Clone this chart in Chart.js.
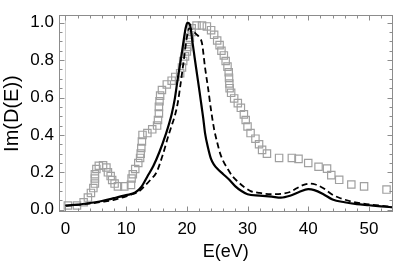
<!DOCTYPE html>
<html><head><meta charset="utf-8">
<script src="https://cdn.jsdelivr.net/npm/chart.js@4/dist/chart.umd.min.js"></script>
<style>html,body{margin:0;padding:0;background:#fff;overflow:hidden}</style>
</head><body>
<canvas id="c" width="399" height="268"></canvas>
<script>
// ---- data ----
const solidE = [0,2,4,6,8,10,11.5,12.5,13.5,14.5,15.5,16.5,17.5,18,18.5,19,19.5,19.8,20.1,20.5,21,21.3,21.7,22.1,22.4,22.7,23,23.5,24,24.5,25,26,27,28,29,30,32,34,35.5,37,38.5,40,41,42.5,44,46,48,50,52,54];
const solidD = [0.022,0.027,0.036,0.047,0.062,0.078,0.092,0.122,0.178,0.235,0.31,0.4,0.51,0.59,0.7,0.8,0.91,0.97,1.0,0.99,0.88,0.81,0.72,0.63,0.56,0.49,0.41,0.33,0.27,0.24,0.22,0.19,0.16,0.125,0.1,0.083,0.076,0.07,0.065,0.075,0.095,0.11,0.105,0.083,0.055,0.04,0.03,0.024,0.018,0.013];

const dashE = [0,2,4,6,8,9,10,11,12,13,14,15,16,17,17.5,18,18.5,19,19.5,20,20.4,20.9,21.5,22.1,22.5,23,23.5,24,24.5,25,25.5,26,26.7,27.5,28.4,29.5,30.5,32,33.8,35.5,37,38.1,39,40.2,41.2,42.5,44,45.1,47,49,51,54];
const dashD = [0.022,0.026,0.033,0.042,0.053,0.062,0.072,0.083,0.095,0.125,0.16,0.2,0.29,0.4,0.45,0.5,0.57,0.68,0.8,0.92,0.97,0.96,0.94,0.92,0.89,0.76,0.65,0.53,0.43,0.36,0.3,0.26,0.22,0.18,0.15,0.12,0.1,0.09,0.083,0.085,0.095,0.115,0.13,0.14,0.135,0.115,0.08,0.064,0.045,0.033,0.025,0.015];

const sqE = [0.4,1.9,3.0,3.7,4.2,4.6,4.85,4.85,4.85,5.1,5.5,6.2,6.75,7.0,7.45,7.7,8.1,8.65,9.7,10.8,10.9,11.1,11.5,12.0,12.3,12.4,12.5,12.6,12.7,13.5,14.3,15.1,15.25,15.4,15.4,15.5,15.6,15.9,16.7,17.5,18.1,18.9,19.2,19.4,19.7,20.0,20.1,20.2,20.5,20.8,20.8,21.6,22.5,23.3,24.0,24.5,25.0,25.4,25.7,26.1,26.4,26.7,26.9,26.95,27.0,27.05,27.3,27.8,28.4,28.9,29.4,29.7,30.0,30.5,31.3,31.9,32.4,33.2,35.2,37.3,38.4,40.0,41.7,43.1,43.8,45.1,47.1,49.2,52.9];
const sqD = [0.023,0.023,0.04,0.065,0.09,0.116,0.14,0.167,0.19,0.218,0.235,0.238,0.226,0.2,0.18,0.159,0.14,0.125,0.125,0.133,0.167,0.19,0.218,0.25,0.277,0.3,0.33,0.365,0.4,0.41,0.43,0.45,0.48,0.515,0.55,0.58,0.61,0.64,0.67,0.69,0.71,0.73,0.76,0.795,0.82,0.846,0.87,0.897,0.92,0.95,0.97,0.985,0.985,0.98,0.96,0.935,0.905,0.88,0.85,0.825,0.795,0.765,0.735,0.705,0.675,0.65,0.625,0.595,0.57,0.545,0.51,0.48,0.445,0.41,0.38,0.35,0.32,0.3,0.277,0.277,0.272,0.25,0.23,0.22,0.185,0.16,0.135,0.125,0.108];

const xTicks = [0,10,20,30,40,50];
const yTicks = [0,0.2,0.4,0.6,0.8,1.0];
const xMinorStep = 2;
const yMinorStep = 0.05;
const xTitle = 'E(eV)';
const yTitle = 'Im(D(E))';

const pts = (xs, ys) => xs.map((x, i) => ({x: x, y: ys[i]}));

const FONT = 'Liberation Sans, Arial, sans-serif';
const FRAME = '#8c8c8c';

const framePlugin = {
  id: 'frame',
  beforeDatasetsDraw(chart) {
    const {ctx, chartArea: a, scales: {x}} = chart;
    ctx.save();
    ctx.strokeStyle = '#cfcfcf';
    ctx.lineWidth = 1;
    const x0 = Math.round(x.getPixelForValue(0)) + 0.5;
    ctx.beginPath(); ctx.moveTo(x0, a.top); ctx.lineTo(x0, a.bottom); ctx.stroke();
    ctx.restore();
  },
  afterDatasetsDraw(chart) {
    const {ctx, chartArea: a, scales: {x, y}} = chart;
    ctx.save();
    ctx.strokeStyle = FRAME;
    ctx.lineWidth = 1;
    const L = Math.round(a.left) + 0.5, R = Math.round(a.right) - 0.5;
    const T = Math.round(a.top) + 0.5, B = Math.round(a.bottom) - 0.5;
    ctx.strokeRect(L, T, R - L, B - T);
    ctx.beginPath();
    for (let v = 0; v <= x.max; v += xMinorStep) {
      const major = xTicks.includes(Math.round(v * 1000) / 1000);
      const len = major ? 5 : 3;
      const px = Math.round(x.getPixelForValue(v)) + 0.5;
      ctx.moveTo(px, B); ctx.lineTo(px, B - len);
      ctx.moveTo(px, T); ctx.lineTo(px, T + len);
    }
    for (let i = 0; i * yMinorStep <= y.max + 1e-9; i++) {
      const v = Math.round(i * yMinorStep * 1000) / 1000;
      const major = yTicks.some(t => Math.abs(t - v) < 1e-6);
      const len = major ? 5 : 3;
      const py = Math.round(y.getPixelForValue(v)) + 0.5;
      ctx.moveTo(L, py); ctx.lineTo(L + len, py);
      ctx.moveTo(R, py); ctx.lineTo(R - len, py);
    }
    ctx.stroke();
    ctx.restore();
  }
};

new Chart(document.getElementById('c'), {
  type: 'scatter',
  data: {
    datasets: [
      {
        label: 'squares',
        data: pts(sqE, sqD),
        showLine: false,
        pointStyle: 'rect',
        pointRadius: 5.2,
        pointBorderColor: '#a0a0a0',
        pointBorderWidth: 1.2,
        pointBackgroundColor: 'rgba(0,0,0,0)',
        order: 3
      },
      {
        label: 'dashed',
        data: pts(dashE, dashD),
        showLine: true,
        borderColor: '#000',
        borderWidth: 1.8,
        borderDash: [6, 3.5],
        pointRadius: 0,
        cubicInterpolationMode: 'monotone',
        fill: false,
        order: 2
      },
      {
        label: 'solid',
        data: pts(solidE, solidD),
        showLine: true,
        borderColor: '#000',
        borderWidth: 2.2,
        pointRadius: 0,
        cubicInterpolationMode: 'monotone',
        fill: false,
        order: 1
      }
    ]
  },
  options: {
    responsive: false,
    devicePixelRatio: 1,
    animation: false,
    layout: {padding: {top: 5, right: 2, left: 0, bottom: 0}},
    plugins: {legend: {display: false}, tooltip: {enabled: false}},
    scales: {
      x: {
        type: 'linear',
        min: -1.06,
        max: 53.9,
        afterBuildTicks: s => { s.ticks = xTicks.map(v => ({value: v})); },
        afterFit: s => { s.height = 56; },
        grid: {display: false, drawTicks: false},
        border: {display: false},
        ticks: {
          autoSkip: false, maxRotation: 0, padding: 7,
          color: '#000', font: {family: FONT, size: 17},
          callback: v => String(v)
        },
        title: {display: true, text: xTitle, color: '#000', font: {family: FONT, size: 18}, padding: {top: 0, bottom: 5}}
      },
      y: {
        type: 'linear',
        min: -0.012,
        max: 1.04,
        afterBuildTicks: s => { s.ticks = yTicks.map(v => ({value: v})); },
        afterFit: s => { s.width = 59; },
        grid: {display: false, drawTicks: false},
        border: {display: false},
        ticks: {
          autoSkip: false, padding: 5,
          color: '#000', font: {family: FONT, size: 17},
          callback: v => Number(v).toFixed(1)
        },
        title: {display: true, text: yTitle, color: '#000', font: {family: FONT, size: 20}, padding: {top: 0, bottom: 0}}
      }
    }
  },
  plugins: [framePlugin]
});
</script>
</body></html>
